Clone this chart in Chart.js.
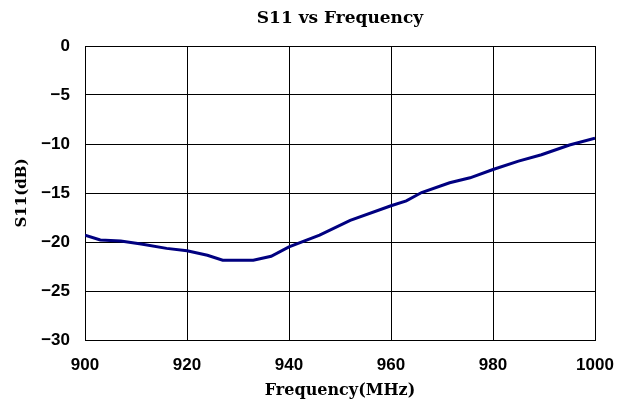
<!DOCTYPE html>
<html>
<head>
<meta charset="utf-8">
<script src="https://cdn.jsdelivr.net/npm/chart.js@4/dist/chart.umd.min.js"></script>
<style>
    html, body { margin: 0; padding: 0; background: #fff; }
    #wrap { width: 621px; height: 403px; }
</style>
</head>
<body>
<div id="wrap"><canvas id="s11-chart" width="621" height="403"></canvas></div>
<script>
// frequency in MHz, S11 in dB
const freqMHz = [900, 903, 907, 911, 916, 920, 924, 927, 933, 936.5, 940, 946, 952, 960, 963, 966, 971.5, 975.5, 980, 985, 989.5, 995, 1000];
const s11dB = [-19.3, -19.8, -19.9, -20.2, -20.65, -20.9, -21.35, -21.85, -21.85, -21.45, -20.5, -19.3, -17.8, -16.3, -15.8, -14.95, -13.95, -13.45, -12.6, -11.75, -11.1, -10.1, -9.4];
const xTicks = [900, 920, 940, 960, 980, 1000];
const yTicks = [0, -5, -10, -15, -20, -25, -30];

const points = freqMHz.map((f, i) => ({ x: f, y: s11dB[i] }));

const tickFont = { family: '"Liberation Sans", Arial, sans-serif', size: 17, weight: 'bold' };
const serifBold = { family: '"DejaVu Serif", serif', size: 15, weight: 'bold' };

// keep label overflow from shrinking the plot area
function noOverflow(s) {
    s.paddingLeft = 0;
    s.paddingRight = 0;
    s.paddingTop = 0;
    s.paddingBottom = 0;
}

const ctx = document.getElementById('s11-chart').getContext('2d');
new Chart(ctx, {
    type: 'scatter',
    data: {
        datasets: [{
            data: points,
            showLine: true,
            borderColor: '#000080',
            borderWidth: 3,
            pointRadius: 0,
            tension: 0
        }]
    },
    options: {
        responsive: false,
        animation: false,
        layout: { padding: { left: 0, right: 26, top: 0, bottom: 0 } },
        plugins: {
            legend: { display: false },
            tooltip: { enabled: false },
            title: {
                display: true,
                text: 'S11 vs Frequency',
                color: '#000',
                fullSize: false,
                font: { family: '"DejaVu Serif", serif', size: 17, weight: 'bold' },
                padding: { top: 8, bottom: 17.6 }
            }
        },
        scales: {
            x: {
                type: 'linear',
                min: 900,
                max: 1000,
                afterBuildTicks: s => { s.ticks = xTicks.map(v => ({ value: v })); },
                afterFit: s => { s.height = 63; noOverflow(s); },
                border: { color: '#000', width: 1 },
                grid: { color: '#000', lineWidth: 1, drawTicks: false },
                ticks: { color: '#000', font: tickFont, padding: 15, maxRotation: 0, callback: v => String(v) },
                title: {
                    display: true,
                    text: 'Frequency(MHz)',
                    color: '#000',
                    font: { family: '"DejaVu Serif", serif', size: 16, weight: 'bold' },
                    padding: { top: 0, bottom: 3 }
                }
            },
            y: {
                min: -30,
                max: 0,
                afterBuildTicks: s => { s.ticks = yTicks.map(v => ({ value: v })); },
                afterFit: s => { s.width = 85; noOverflow(s); },
                border: { color: '#000', width: 1 },
                grid: { color: '#000', lineWidth: 1, drawTicks: false },
                ticks: {
                    color: '#000',
                    font: tickFont,
                    padding: 15,
                    callback: v => String(v).replace('-', '\u2212')
                },
                title: {
                    display: true,
                    text: 'S11(dB)',
                    color: '#000',
                    font: serifBold,
                    padding: { top: 13.5, bottom: 0 }
                }
            }
        }
    }
});
</script>
</body>
</html>
